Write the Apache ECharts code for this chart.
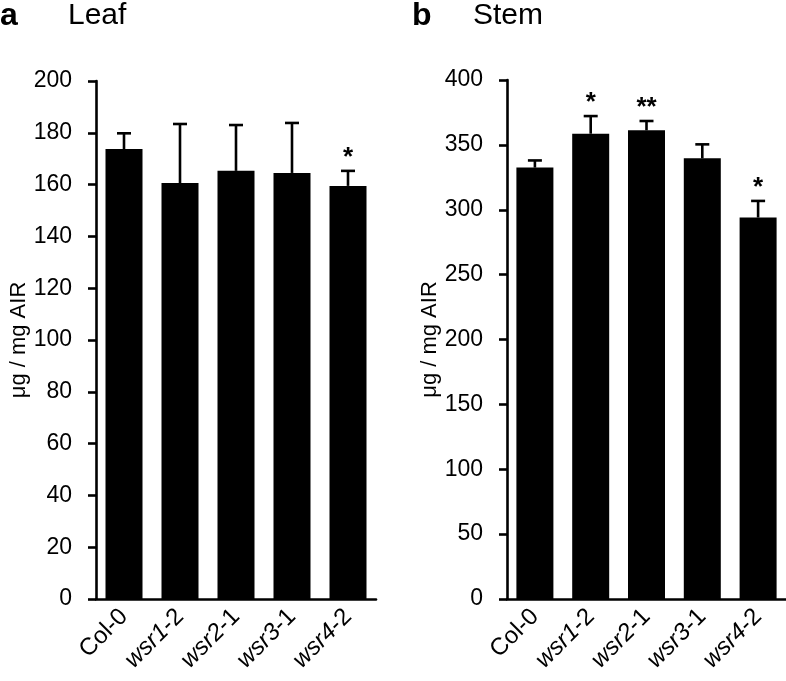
<!DOCTYPE html>
<html>
<head>
<meta charset="utf-8">
<script src="https://cdn.jsdelivr.net/npm/echarts@6/dist/echarts.min.js"></script>
<style>
html,body{margin:0;padding:0;background:#fff;}
#chart{width:786px;height:681px;}
</style>
</head>
<body>
<div id="chart"></div>
<script>
var categories = ['Col-0', 'wsr1-2', 'wsr2-1', 'wsr3-1', 'wsr4-2'];
var categoryLabels = ['Col-0', '{i|wsr1}-2', '{i|wsr2}-1', '{i|wsr3}-1', '{i|wsr4}-2'];
var leafValues = [173.7, 160.6, 165.3, 164.5, 159.5];
var leafErrTop = [179.8, 183.4, 183.0, 183.8, 165.3];
var leafSig = ['', '', '', '', '*'];
var stemValues = [332.5, 358.6, 361.2, 339.6, 294.0];
var stemErrTop = [338.0, 372.2, 368.4, 350.4, 306.8];
var stemSig = ['', '*', '**', '', '*'];
var yName = 'μg / mg AIR';

var FONT = '"Liberation Sans", Arial, Helvetica, sans-serif';
var errSigs = {};

function errData(vals, tops) {
  return vals.map(function (v, i) { return [i, v, tops[i]]; });
}

function renderErr(params, api) {
  var i = api.value(0);
  var base = api.coord([i, api.value(1)]);
  var top = api.coord([i, api.value(2)]);
  var s = errSigs[params.seriesIndex][params.dataIndex];
  var children = [
    { type: 'line', shape: { x1: base[0], y1: base[1], x2: top[0], y2: top[1] },
      style: { stroke: '#000', lineWidth: 2.6 } },
    { type: 'line', shape: { x1: top[0] - 7, y1: top[1], x2: top[0] + 7, y2: top[1] },
      style: { stroke: '#000', lineWidth: 2.6 } }
  ];
  if (s) {
    children.push({ type: 'text', style: { text: s, x: top[0], y: top[1] - 13,
      align: 'center', verticalAlign: 'middle', fill: '#000',
      font: 'bold 26px ' + FONT } });
  }
  return { type: 'group', children: children };
}

function yAxis(gi, max, interval) {
  return {
    type: 'value', gridIndex: gi, min: 0, max: max, interval: interval,
    name: yName, nameLocation: 'middle', nameGap: 62,
    nameTextStyle: { fontFamily: FONT, fontSize: 22, color: '#000' },
    axisLine: { show: true, lineStyle: { color: '#000', width: 2.6 } },
    axisTick: { show: true, length: 8, lineStyle: { color: '#000', width: 2.6 } },
    axisLabel: { fontFamily: FONT, fontSize: 23, color: '#000', margin: 24 },
    splitLine: { show: false }
  };
}
function xAxis(gi) {
  return {
    type: 'category', gridIndex: gi, data: categoryLabels,
    axisLine: { lineStyle: { color: '#000', width: 2.6 } },
    axisTick: { show: false },
    axisLabel: { interval: 0, rotate: 45, fontFamily: FONT, fontSize: 24, color: '#000', margin: 14,
      rich: { i: { fontStyle: 'italic', fontFamily: FONT, fontSize: 24, color: '#000' } } }
  };
}

var option = {
  animation: false,
  backgroundColor: '#fff',
  grid: [
    { left: 96, top: 81, width: 280, height: 518 },
    { left: 507, top: 80, width: 279, height: 519 }
  ],
  xAxis: [xAxis(0), xAxis(1)],
  yAxis: [yAxis(0, 200, 20), yAxis(1, 400, 50)],
  graphic: [
    { type: 'text', left: 0, top: 0, style: { text: 'a', font: 'bold 32px ' + FONT, fill: '#000' } },
    { type: 'text', left: 68, top: 1, style: { text: 'Leaf', font: '30px ' + FONT, fill: '#000' } },
    { type: 'text', left: 412, top: 0, style: { text: 'b', font: 'bold 32px ' + FONT, fill: '#000' } },
    { type: 'text', left: 473, top: 1, style: { text: 'Stem', font: '30px ' + FONT, fill: '#000' } }
  ],
  series: [
    { type: 'bar', xAxisIndex: 0, yAxisIndex: 0, data: leafValues, barWidth: 37,
      itemStyle: { color: '#000' } },
    { type: 'bar', xAxisIndex: 1, yAxisIndex: 1, data: stemValues, barWidth: 37,
      itemStyle: { color: '#000' } },
    { type: 'custom', xAxisIndex: 0, yAxisIndex: 0, data: errData(leafValues, leafErrTop),
      renderItem: renderErr, z: 3 },
    { type: 'custom', xAxisIndex: 1, yAxisIndex: 1, data: errData(stemValues, stemErrTop),
      renderItem: renderErr, z: 3 }
  ]
};
errSigs[2] = leafSig;
errSigs[3] = stemSig;

var chart = echarts.init(document.getElementById('chart'), null, { renderer: 'canvas' });
chart.setOption(option);
</script>
</body>
</html>
